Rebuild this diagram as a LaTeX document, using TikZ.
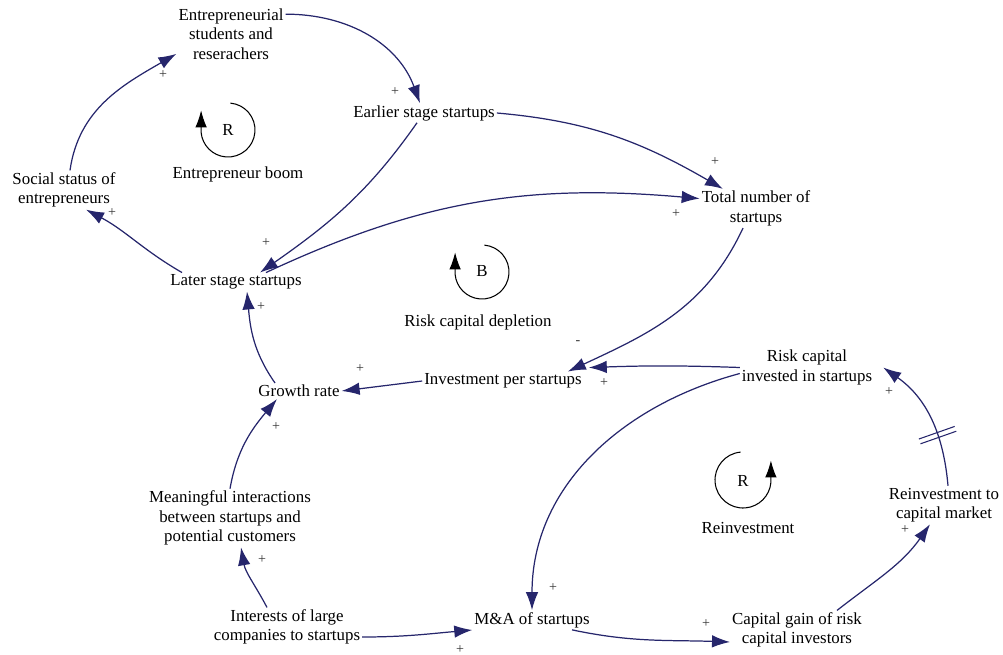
\documentclass[tikz,border=0pt]{standalone}
\usepackage{fontspec}
\setmainfont{Liberation Serif}
\usetikzlibrary{arrows.meta}
\definecolor{linkblue}{RGB}{38,38,108}

\begin{document}
\begin{tikzpicture}[x=0.02cm,y=0.02cm,
        var/.style={align=center,inner sep=1pt,font=\fontsize{9.6}{11.1}\selectfont},
        link/.style={draw=linkblue,line width=0.7pt,-{Latex[length=3.6mm,width=2.5mm]}},
        sign/.style={font=\fontsize{8}{9}\selectfont,text=black!80,inner sep=0pt},
        loopsym/.style={line width=0.6pt,-{Latex[length=3.4mm,width=2.3mm]}},
        looplbl/.style={font=\fontsize{9.6}{11.1}\selectfont}]
    \useasboundingbox (0,0) rectangle (1003,-655);

    % variables
    \node[var] (ent) at (231,-34) {Entrepreneurial\\students and\\reserachers};
    \node[var] (early) at (424,-113) {Earlier stage startups};
    \node[var] (social) at (64,-190) {Social status of\\entrepreneurs};
    \node[var] (total) at (756,-208.5) {Total number of\\startups};
    \node[var] (later) at (236,-282) {Later stage startups};
    \node[var] (growth) at (299,-391) {Growth rate};
    \node[var] (invest) at (503,-381) {Investment per startups};
    \node[var] (risk) at (807,-367.5) {Risk capital\\invested in startups};
    \node[var] (meaning) at (230,-518) {Meaningful interactions\\between startups and\\potential customers};
    \node[var] (interests) at (287,-627) {Interests of large\\companies to startups};
    \node[var] (ma) at (532,-620) {M\&A of startups};
    \node[var] (gain) at (797,-630) {Capital gain of risk\\capital investors};
    \node[var] (reinv) at (944,-505) {Reinvestment to\\capital market};

    % causal links
    \draw[link] ([xshift=0.12cm]social.north) to[out=82,in=210] (ent.200);
    \draw[link] (ent.20) to[out=0,in=110] ([xshift=-0.08cm]early.north);
    \draw[link] ([xshift=-0.14cm]early.south) to[out=235,in=35] ([xshift=0.48cm]later.north);
    \draw[link] (early.east) to[out=-5,in=150] ([xshift=-0.66cm]total.north);
    \draw[link] ([xshift=0.6cm]later.north) to[out=25,in=175] (total.170);
    \draw[link] ([xshift=-1.08cm]later.north) to[out=150,in=-28] ([xshift=0.44cm]social.south);
    \draw[link] ([xshift=-0.48cm]growth.north) to[out=125,in=-85] ([xshift=0.22cm]later.south);
    \draw[link] ([xshift=-0.26cm]total.south) to[out=245,in=25] ([xshift=-0.32cm]invest.north east);
    \draw[link] (risk.west) to[out=178,in=2] ([shift={(5,4)}]invest.north east);
    \draw[link] (invest.west) -- (growth.east);
    \draw[link] (meaning.north) to[out=80,in=-130] ([xshift=-0.44cm]growth.south);
    \draw[link] ([xshift=-0.4cm]interests.north) to[out=118,in=-80] ([xshift=0.22cm]meaning.south);
    \draw[link] ([yshift=-0.2cm]interests.east) to[out=0,in=185] ([yshift=-0.2cm]ma.west);
    \draw[link] ([yshift=-0.12cm]risk.west) to[out=195,in=90] (ma.north);
    \draw[link] ([xshift=0.8cm]ma.south) to[out=-12,in=178] ([yshift=-0.24cm]gain.west);
    \draw[link] ([xshift=0.8cm]gain.north) to[out=38,in=235] ([xshift=-0.28cm]reinv.south);
    \draw[link] ([xshift=0.08cm]reinv.north) to[out=95,in=-35] coordinate[pos=0.36] (dly) ([xshift=0.18cm]risk.east);
    % delay mark
    \draw[linkblue,line width=0.6pt] ([shift={(-17.1,-8.7)}]dly) -- ([shift={(18.7,3.9)}]dly);
    \draw[linkblue,line width=0.6pt] ([shift={(-18.7,-3.9)}]dly) -- ([shift={(17.1,8.7)}]dly);

    % polarities
    \foreach \x/\y/\s [count=\i] in {163/75/+,395/92/+,266/243/+,715/162/+,676/214/+,112/213/+,
            261/307/+,578/343/-,604/383/+,360/369/+,276/427/+,262/560/+,460/650/+,553/588/+,
            706/624/+,905/530/+,889/392/+}
        {\node[sign] (s\i) at (\x,-\y) {\s};}

    % loops
    \draw[loopsym] (228,-130) ++(85:27) arc[start angle=85,end angle=-175,radius=27] -- ++(0,22);
    \node[looplbl] (loopA) at (228,-130) {R};
    \node[looplbl] (nameA) at (238,-174) {Entrepreneur boom};
    \draw[loopsym] (482,-272) ++(85:27) arc[start angle=85,end angle=-175,radius=27] -- ++(0,22);
    \node[looplbl] (loopB) at (482,-271) {B};
    \node[looplbl] (nameB) at (478,-322) {Risk capital depletion};
    \draw[loopsym] (743,-480) ++(95:28) arc[start angle=95,end angle=355,radius=28] -- ++(0,22);
    \node[looplbl] (loopC) at (743,-481) {R};
    \node[looplbl] (nameC) at (748,-528) {Reinvestment};
\end{tikzpicture}
\end{document}
